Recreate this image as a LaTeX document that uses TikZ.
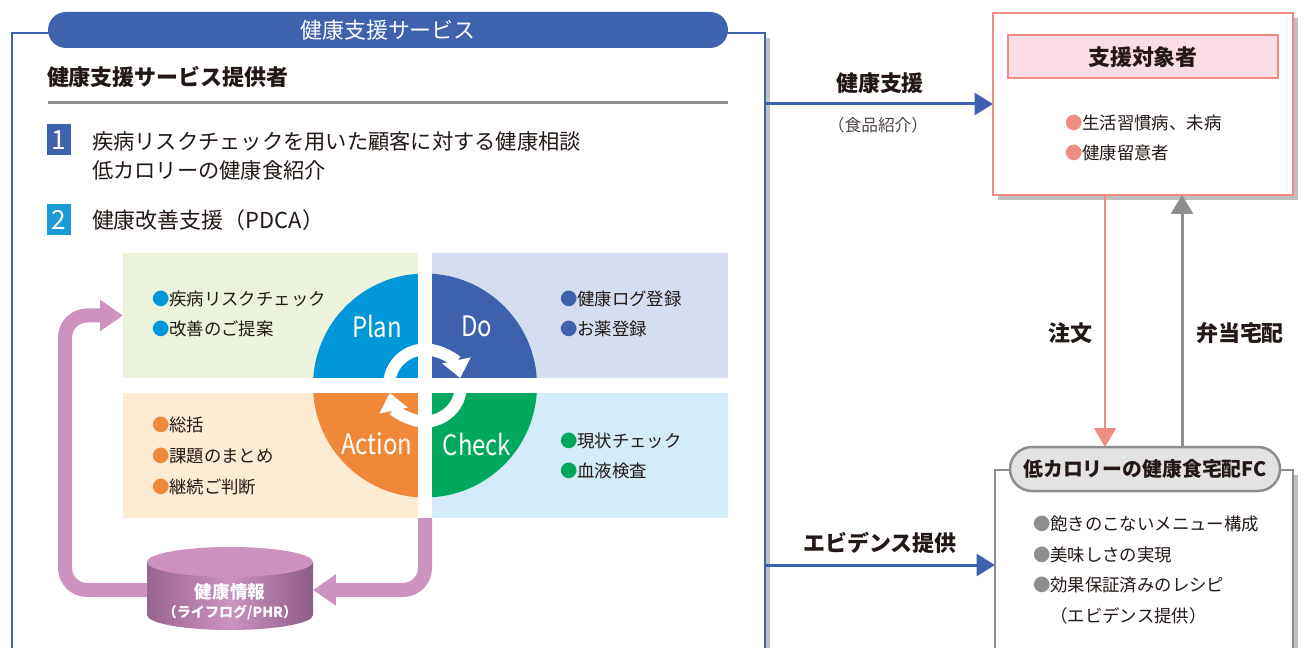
\documentclass[tikz,border=0pt]{standalone}
\usepackage{fontspec}
\setmainfont{Noto Sans CJK JP}
\usetikzlibrary{positioning,arrows.meta,shadows}
\definecolor{bb}{RGB}{63,98,174}
\definecolor{sky}{RGB}{26,154,215}
\definecolor{pl}{RGB}{0,151,216}
\definecolor{dd}{RGB}{62,97,174}
\definecolor{ac}{RGB}{239,136,56}
\definecolor{ch}{RGB}{0,168,94}
\definecolor{plbg}{RGB}{235,243,220}
\definecolor{ddbg}{RGB}{212,222,240}
\definecolor{acbg}{RGB}{253,235,212}
\definecolor{chbg}{RGB}{212,235,248}
\definecolor{pk}{RGB}{206,146,191}
\definecolor{pkdk}{RGB}{140,93,134}
\definecolor{sal}{RGB}{240,140,132}
\definecolor{salbg}{RGB}{249,220,230}
\definecolor{gr}{RGB}{142,142,142}
\definecolor{grbg}{RGB}{227,227,227}
\definecolor{ink}{RGB}{35,24,21}
\def\px{0.02cm}
\newcommand{\fbig}{\fontsize{12.5}{16.4}\selectfont}
\newcommand{\fmid}{\fontsize{9.9}{17.4}\selectfont}
\newcommand{\quadbox}[4]{\node[minimum width=#4*\px,minimum height=125*\px,fill=#3,inner sep=0pt,outer sep=0pt,anchor=north west] (#1) at (#2) {};}
\newcommand{\dotitem}[2]{\textcolor{#1}{●}#2}
\tikzset{
  txt/.style={inner sep=0pt,outer sep=0pt,text=ink},
  pdca/.style={inner sep=0pt,text=white,font=\fontsize{16}{16}\selectfont,xscale=0.85},
  bluearr/.style={bb,line width=3*\px,-{Triangle[length=0.37cm,width=0.44cm]}},
  salarr/.style={sal,line width=2.5*\px,-{Triangle[length=0.38cm,width=0.44cm]}},
  grarr/.style={gr,line width=3*\px,-{Triangle[length=0.38cm,width=0.44cm]}},
  pinkloop/.style={pk,line width=14*\px,rounded corners=22*\px,-{Triangle[length=0.46cm,width=0.6cm]}},
  ringarr/.style={white,line width=12*\px,-{Triangle[length=0.36cm,width=0.56cm]}},
  shadowed/.style={drop shadow={shadow xshift=3pt,shadow yshift=-3pt,opacity=0.25,fill=black}}
}
\begin{document}
\begin{tikzpicture}[x=0.02cm,y=0.02cm]
\useasboundingbox (0,0) rectangle (1305,-648);
\begin{scope}
\clip (0,0) rectangle (1305,-648);

\node[draw=bb,line width=2*\px,fill=white,minimum width=753*\px,minimum height=667*\px,inner sep=0pt,outer sep=0pt,anchor=north west,shadowed] (provider) at (12,-33) {};
\node[fill=bb,rounded corners=18*\px,minimum width=680*\px,minimum height=36*\px,text=white,font=\fbig] (banner) at (388,-30) {健康支援サービス};
\node[txt,anchor=west,font=\bfseries\fbig] (provhead) at (47,-77) {健康支援サービス提供者};
\draw[gr,line width=3*\px] (48,-103) -- (728,-103);

\node[fill=bb,text=white,minimum width=24*\px,minimum height=31*\px,inner sep=0pt,font=\fontsize{15}{15}\selectfont] (n1) at (59,-140) {1};
\node[txt,anchor=west,align=left,font=\fontsize{12.1}{16.4}\selectfont] (t1) at (92,-156) {疾病リスクチェックを用いた顧客に対する健康相談\\低カロリーの健康食紹介};
\node[fill=sky,text=white,minimum width=24*\px,minimum height=31*\px,inner sep=0pt,font=\fontsize{15}{15}\selectfont] (n2) at (59,-220) {2};
\node[txt,anchor=west,font=\fbig] (t2) at (92,-220) {健康改善支援（PDCA）};

\quadbox{planbox}{123,-253}{plbg}{295}
\quadbox{dobox}{432,-253}{ddbg}{296}
\quadbox{actbox}{123,-393}{acbg}{295}
\quadbox{chbox}{432,-393}{chbg}{296}

\coordinate (c) at (425,-385.5);
\fill[pl] (c) -- ++(180:2.24cm) arc[start angle=180,end angle=90,radius=2.24cm] -- cycle;
\fill[dd] (c) -- ++(90:2.24cm) arc[start angle=90,end angle=0,radius=2.24cm] -- cycle;
\fill[ch] (c) -- ++(0:2.24cm) arc[start angle=0,end angle=-90,radius=2.24cm] -- cycle;
\fill[ac] (c) -- ++(-90:2.24cm) arc[start angle=-90,end angle=-180,radius=2.24cm] -- cycle;
\draw[ringarr] (c) ++(180:0.72cm) arc[start angle=180,end angle=12,radius=0.72cm];
\draw[ringarr] (c) ++(0:0.72cm) arc[start angle=0,end angle=-168,radius=0.72cm];
\fill[white] (418,-253) rectangle (432,-518);
\fill[white] (123,-378) rectangle (728,-393);

\node[pdca] (plan) at (377,-326) {Plan};
\node[pdca] (do) at (477,-326) {Do};
\node[pdca] (action) at (377,-444) {Action};
\node[pdca] (check) at (477,-444) {Check};

\node[txt,anchor=west,align=left,font=\fmid] (planlist) at (152,-314) {\dotitem{pl}{疾病リスクチェック}\\\dotitem{pl}{改善のご提案}};
\node[txt,anchor=west,align=left,font=\fmid] (dolist) at (560,-314) {\dotitem{dd}{健康ログ登録}\\\dotitem{dd}{お薬登録}};
\node[txt,anchor=west,align=left,font=\fmid] (actlist) at (152,-456) {\dotitem{ac}{総括}\\\dotitem{ac}{課題のまとめ}\\\dotitem{ac}{継続ご判断}};
\node[txt,anchor=west,align=left,font=\fmid] (chlist) at (560,-456) {\dotitem{ch}{現状チェック}\\\dotitem{ch}{血液検査}};

\shade[left color=pkdk!85!pk,right color=pkdk,middle color=pk] (147,-562) -- (147,-615) arc[start angle=180,end angle=360,x radius=83*\px,y radius=15*\px] -- (313,-562) -- cycle;
\fill[pk] (230,-562) ellipse[x radius=83*\px,y radius=15*\px];
\node[inner sep=0pt,outer sep=0pt,text=white,align=center,minimum width=166*\px,font=\bfseries\fontsize{10}{10.8}\selectfont] (db) at (230,-602) {健康情報\\{\fontsize{8}{10}\selectfont （ライフログ/PHR）}};

\draw[pinkloop] (c |- actbox.south) |- ([yshift=12*\px]db.east);
\draw[pinkloop] ([yshift=12*\px]db.west) -| ([xshift=-58*\px]planbox.west) -- (planbox.west);

\node[draw=sal,line width=2*\px,fill=white,minimum width=300*\px,minimum height=182*\px,inner sep=0pt,outer sep=0pt,shadowed] (target) at (1143,-104) {};
\node[draw=sal,fill=salbg,line width=2*\px,minimum width=270*\px,minimum height=43*\px,inner sep=0pt,text=ink,font=\bfseries\fbig] (targethead) at (1143,-57) {支援対象者};
\node[txt,anchor=west,align=left,font=\fmid] (targetlist) at (1065,-138) {\dotitem{sal}{生活習慣病、未病}\\\dotitem{sal}{健康留意者}};

\node[draw=gr,line width=2*\px,fill=white,minimum width=298*\px,minimum height=190*\px,inner sep=0pt,outer sep=0pt,shadowed] (fc) at (1144,-565) {};
\node[draw=gr,fill=grbg,line width=2.5*\px,rounded corners=22*\px,minimum width=270*\px,minimum height=44*\px,inner sep=0pt,outer sep=0pt,text=ink,font=\bfseries\fontsize{11.3}{12}\selectfont] (fchead) at (1145,-469) {低カロリーの健康食宅配FC};
\node[txt,anchor=west,align=left,font=\fmid] (fclist) at (1033,-570) {\dotitem{gr}{飽きのこないメニュー構成}\\\dotitem{gr}{美味しさの実現}\\\dotitem{gr}{効果保証済みのレシピ}\\\hspace*{1em}（エビデンス提供）};

\draw[bluearr] (provider.east |- target.west) -- (target.west);
\node[txt,font=\bfseries\fbig] (suplbl) at (880,-83) {健康支援};
\node[txt,font=\fontsize{9.5}{10}\selectfont,text=ink!80] (suplbl2) at (878,-125) {（食品紹介）};
\draw[bluearr] (provider.east |- fc.west) -- (fc.west);
\node[txt,font=\bfseries\fbig] (evilbl) at (880,-543) {エビデンス提供};

\draw[salarr] ([xshift=-38*\px]target.south) -- ([xshift=-38*\px]target.south |- fchead.north);
\draw[grarr] ([xshift=39*\px]target.south |- fchead.north) -- ([xshift=39*\px]target.south);
\node[txt,font=\bfseries\fbig] (orderlbl) at (1070,-333) {注文};
\node[txt,font=\bfseries\fbig] (delivlbl) at (1240,-333) {弁当宅配};
\end{scope}
\end{tikzpicture}
\end{document}
